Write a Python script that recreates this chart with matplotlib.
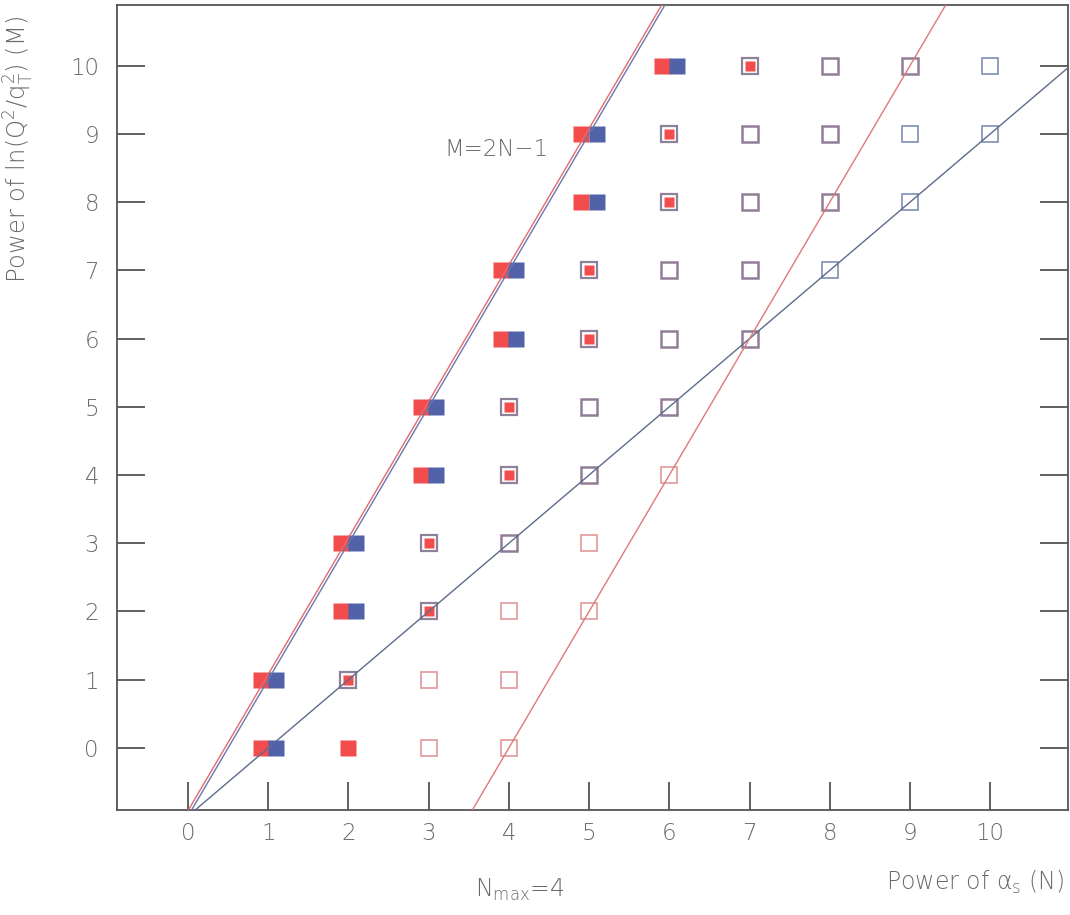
import matplotlib
matplotlib.use("Agg")
import matplotlib.pyplot as plt

plt.rcParams['font.family'] = ['DejaVu Sans']
plt.rcParams['font.weight'] = 'light'
plt.rcParams['mathtext.fontset'] = 'custom'
plt.rcParams['mathtext.rm'] = 'DejaVu Sans:light'
plt.rcParams['mathtext.it'] = 'DejaVu Sans:light'

# ---- data ----
ticks_N = list(range(0, 11))
ticks_M = list(range(0, 11))

# leading terms: red+blue pair
pair_N = [1, 1, 2, 2, 3, 3, 4, 4, 5, 5, 6]
pair_M = [0, 1, 2, 3, 4, 5, 6, 7, 8, 9, 10]
# next-to-leading: red inside outlined box
nll_N = [2, 3, 3, 4, 4, 5, 5, 6, 6, 7]
nll_M = [1, 2, 3, 4, 5, 6, 7, 8, 9, 10]
# filled red only
red_N = [2]
red_M = [0]
# open red boxes
ored_N = [3, 4, 3, 4, 4, 5, 5, 6]
ored_M = [0, 0, 1, 1, 2, 2, 3, 4]
# open purple boxes
opur_N = [4, 5, 5, 6, 6, 7, 6, 7, 7, 8, 7, 8, 8, 9]
opur_M = [3, 4, 5, 5, 6, 6, 7, 7, 8, 8, 9, 9, 10, 10]
# open blue boxes
oblu_N = [8, 9, 9, 10, 10]
oblu_M = [7, 8, 9, 9, 10]

# lines M = a*N + b
line_slopes = [2.0, 2.0, 1.0, 2.0]
line_intercepts = [-0.92, -1.0, -1.0, -8.0]
line_colors = ['#e56a6a', '#6878b0', '#5d6b8c', '#e07878']

label_text = "M=2N\u22121"
label_pos = (3.2, 8.77)

RED = '#f24c4c'
BLUE = '#5262a8'
TXT = '#6a6a6a'

fig = plt.figure(figsize=(10.7, 9.15), dpi=100)
ax = fig.add_axes([117/1070, 1-810/915, (1068-117)/1070, (810-5)/915])
ax.set_xlim(-0.885, 10.97)
ax.set_ylim(-0.91, 10.89)

dx = 0.095
ax.plot([n - dx for n in pair_N], pair_M, 's', ms=11, color=RED, mec='none', zorder=3)
ax.plot([n + dx for n in pair_N], pair_M, 's', ms=11, color=BLUE, mec='none', zorder=3)

ax.plot(nll_N, nll_M, 's', ms=11.5, mfc='none', mec='#8e8299', mew=1.6, zorder=3)
ax.plot(nll_N, nll_M, 's', ms=7.5, color=RED, mec='none', zorder=3)

ax.plot(red_N, red_M, 's', ms=11.5, color=RED, mec='none', zorder=3)

ax.plot(ored_N, ored_M, 's', ms=11.5, mfc='none', mec='#e3a0a0', mew=1.3, zorder=3)
ax.plot(opur_N, opur_M, 's', ms=11.5, mfc='none', mec='#927d96', mew=1.8, zorder=3)
ax.plot(oblu_N, oblu_M, 's', ms=11.5, mfc='none', mec='#8797ba', mew=1.3, zorder=3)

for a, b, c in zip(line_slopes, line_intercepts, line_colors):
    ax.axline((0, b), slope=a, color=c, lw=1.0, zorder=4)

ax.text(label_pos[0], label_pos[1], label_text, ha='left', va='center',
        fontsize=16.5, color=TXT)

ax.set_xticks(ticks_N)
ax.set_yticks(ticks_M)
ax.tick_params(axis='both', direction='in', length=20, width=1.3,
               color='#555555', labelcolor=TXT, labelsize=16.5)
ax.tick_params(axis='x', pad=9, top=False)
ax.tick_params(axis='y', pad=13, right=True)
for s in ax.spines.values():
    s.set_color('#555555')
    s.set_linewidth(1.3)

fig.text(19/1070, 1-16/915, r"Power of ln(Q$^{2}$/q$_{\mathregular{T}}^{2}$) (M)", rotation=90,
         ha='center', va='top', fontsize=17.5, color=TXT)
fig.text(1064/1070, 1-882/915, "Power of \u03b1$_{\\mathregular{s}}$ (N)", ha='right', va='center',
         fontsize=17, color=TXT)
fig.text(520/1070, 1-890/915, r"N$_{\mathregular{max}}$=4", ha='center', va='center',
         fontsize=17, color=TXT)

fig.savefig('out.png', dpi=100, facecolor='white')
